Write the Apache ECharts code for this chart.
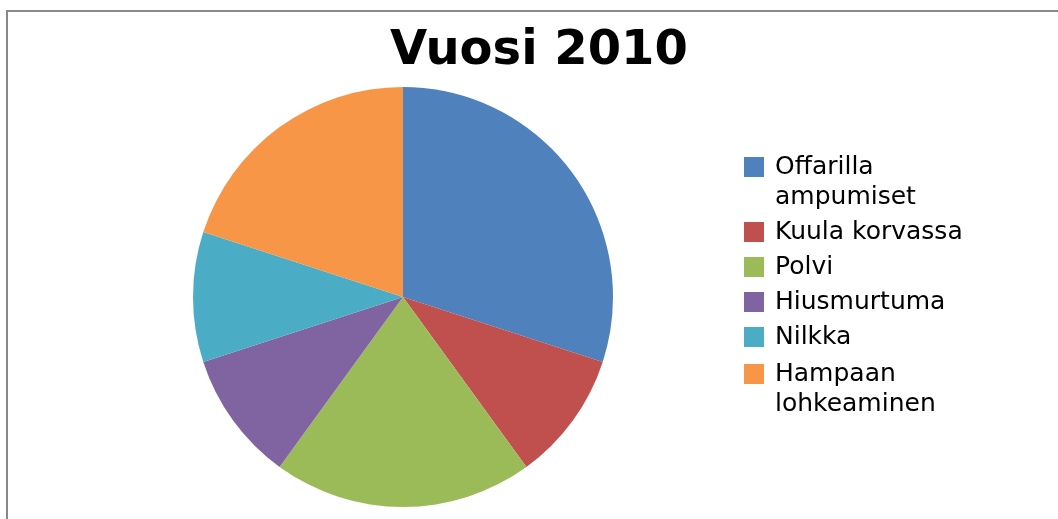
<!DOCTYPE html>
<html>
<head>
<meta charset="utf-8">
<script src="https://cdn.jsdelivr.net/npm/echarts@6/dist/echarts.min.js"></script>
<style>
    html, body { margin: 0; padding: 0; background: #fff; overflow: hidden; }
    #frame { position: absolute; left: 6px; top: 10px; width: 1200px; height: 700px; border: 2px solid #898989; }
    #chart { position: absolute; left: 0; top: 0; width: 1058px; height: 519px; }
</style>
</head>
<body>
<div id="frame"></div>
<div id="chart"></div>
<script>
var title = 'Vuosi 2010';
var categories = ['Offarilla\nampumiset', 'Kuula korvassa', 'Polvi', 'Hiusmurtuma', 'Nilkka', 'Hampaan\nlohkeaminen'];
var values = [30, 10, 20, 10, 10, 20];
var colors = ['#4F81BD', '#C0504D', '#9BBB59', '#8064A2', '#4BACC6', '#F79646'];

(function() {
    var chart = echarts.init(document.getElementById('chart'), null, { renderer: 'canvas' });

    var pieData = categories.map(function(name, i) {
        return { name: name, value: values[i], itemStyle: { color: colors[i] } };
    });

    // legend text is centred on the swatch; a leading empty line puts the
    // swatch beside the first line of a two-line name
    function legendLabel(name) {
        return name.indexOf('\n') >= 0 ? '\n' + name : name;
    }
    // top padding nudges text a few px below the swatch centre
    var legendText = { fontFamily: 'DejaVu Sans', fontSize: 25, lineHeight: 30, color: '#000', padding: [6, 0, 0, 6] };
    function makeLegend(names, top) {
        return {
            orient: 'vertical', left: 744, top: top, padding: 0,
            itemWidth: 20, itemHeight: 20, itemGap: -1,
            icon: 'rect',
            data: names,
            formatter: legendLabel,
            textStyle: legendText
        };
    }

    chart.setOption({
        animation: false,
        title: {
            text: title, left: 390, top: 28, padding: 0,
            textStyle: { fontFamily: 'DejaVu Sans', fontSize: 48, fontWeight: 'bold', color: '#000' }
        },
        legend: [
            makeLegend(categories.slice(0, 5), 119),
            makeLegend(categories.slice(5), 326)
        ],
        series: [{
            type: 'pie',
            center: [403, 297], radius: 210,
            startAngle: 90, clockwise: true,
            label: { show: false }, labelLine: { show: false },
            emphasis: { disabled: true },
            data: pieData
        }]
    });
})();
</script>
</body>
</html>
